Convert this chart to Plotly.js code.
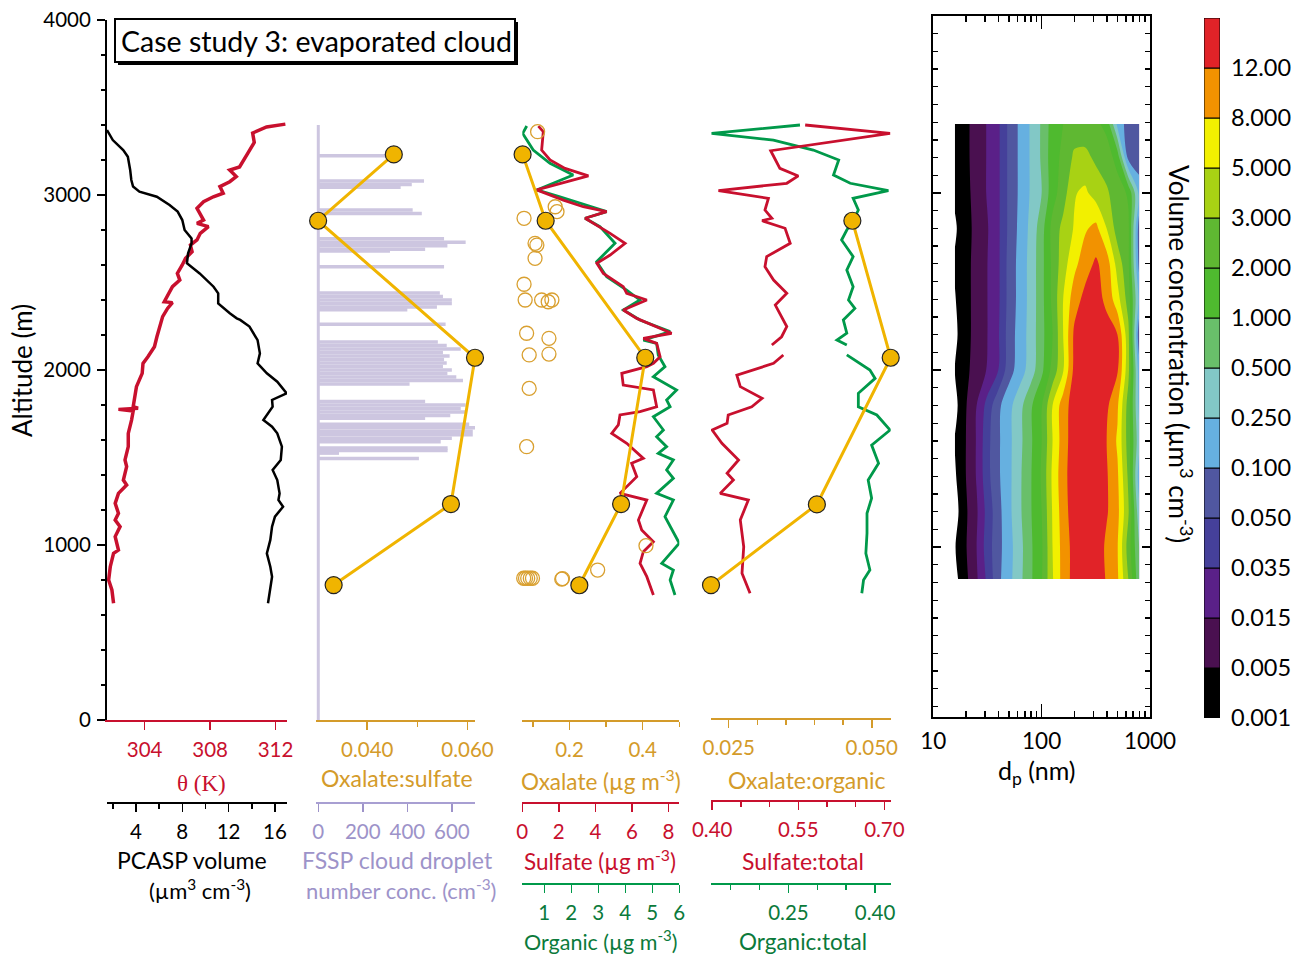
<!DOCTYPE html>
<html><head><meta charset="utf-8">
<script src="https://cdn.plot.ly/plotly-3.0.1.min.js"></script>
<style>body{margin:0;background:#fff}#chart{width:1294px;height:956px}</style>
</head><body><div id="chart"></div>
<script>
// ---------------- DATA ----------------
// Panel 1: potential temperature (K) and PCASP volume vs altitude (m)
const thetaAlt = [667,743,800,876,952,971,1048,1105,1143,1181,1238,1295,1343,1371,1448,1486,1562,1638,1714,1765,1775,1782,1790,1840,1905,1981,2038,2076,2133,2190,2248,2305,2352,2385,2390,2438,2476,2514,2552,2600,2638,2676,2714,2743,2781,2819,2838,2857,2895,2924,2962,2990,3010,3048,3076,3105,3143,3160,3238,3300,3354,3389,3405];
const thetaK   = [302.1,302.0,301.8,301.9,302.1,302.4,302.2,302.5,302.2,302.4,302.2,302.4,302.9,302.7,302.9,302.8,303.0,303.0,303.2,303.3,302.4,303.6,303.3,303.4,303.5,303.85,303.9,304.2,304.6,304.75,304.9,305.1,305.4,305.7,305.2,305.5,305.7,306.15,306.0,306.3,306.5,306.9,306.8,307.2,307.4,307.9,307.2,307.6,307.4,307.2,307.6,308.2,308.8,308.6,309.2,309.6,309.2,309.8,310.3,310.7,310.6,311.45,312.6];
const pcaspAlt = [667,762,819,876,952,1029,1105,1162,1219,1257,1295,1371,1429,1486,1562,1638,1676,1714,1790,1829,1867,1933,1981,2038,2095,2171,2248,2286,2295,2324,2381,2438,2476,2552,2610,2667,2724,2752,2800,2857,2905,2943,2990,3019,3048,3086,3143,3219,3257,3314,3371];
const pcaspVol = [15.4,15.6,15.75,15.6,15.3,15.6,15.75,16.0,16.7,16.3,16.4,16.2,15.8,16.5,16.6,16.2,15.75,15.0,15.8,15.75,17.0,16.2,15.3,14.5,14.7,14.5,13.8,13.0,12.7,12.1,11.1,11.1,10.7,9.5,8.4,8.5,8.8,8.8,8.2,8.0,7.6,6.9,5.8,4.3,3.75,3.6,3.5,3.3,2.9,2.0,1.5];
const profileTop = 3400;

// Panel 2: FSSP cloud droplet number conc. (cm-3) and oxalate:sulfate
const fsspAlt  = [1495,1525,1540,1555,1590,1610,1630,1650,1670,1690,1725,1740,1760,1780,1800,1820,1920,1940,1960,1980,2000,2020,2040,2060,2080,2100,2120,2140,2160,2262,2345,2360,2380,2400,2420,2440,2590,2680,2690,2710,2730,2750,2895,2915,3045,3060,3080,3225];
const fsspConc = [452,93,581,581,550,600,694,694,704,678,480,593,662,640,662,480,410,650,620,580,600,560,577,565,590,560,640,577,537,572,400,533,600,600,560,546,565,322,480,580,662,565,465,424,370,420,475,330];
const oxSulfAlt   = [3232,2853,2070,1234,771];
const oxSulfRatio = [0.0453,0.0302,0.0615,0.0567,0.0333];

// Panel 3: mass concentrations (ug m-3)
const oxAlt     = [3232,2853,2070,1234,770];
const oxalate   = [0.072,0.135,0.407,0.341,0.227];
const oxOpenAlt = [3362,2933,2905,2867,2724,2714,2638,2490,2400,2400,2390,2400,2210,2181,2086,2091,1895,1562,996,857,805,810,810,810,810,810,808];
const oxOpen    = [0.113,0.161,0.166,0.076,0.106,0.111,0.106,0.076,0.079,0.124,0.142,0.152,0.083,0.144,0.090,0.144,0.090,0.083,0.409,0.277,0.179,0.075,0.080,0.086,0.093,0.099,0.181];
const sulfAlt = [3394,3362,3257,3200,3152,3109,3029,2971,2933,2905,2867,2829,2781,2724,2657,2610,2552,2476,2438,2400,2343,2295,2248,2210,2181,2152,2076,2038,2019,1981,1914,1886,1790,1762,1743,1686,1638,1581,1495,1467,1390,1333,1295,1257,1143,1086,1019,962,895,819,714];
const sulfate = [0.88,1.15,1.06,1.52,2.34,3.62,0.79,2.25,3.34,4.62,3.44,4.08,4.81,5.63,4.81,4.08,4.44,5.53,5.72,6.82,5.53,6.27,7.36,8.18,6.63,7.36,7.55,7.18,6.82,5.45,5.53,7.18,7.36,6.45,5.35,5.26,4.9,5.72,6.63,5.99,6.27,5.72,5.35,6.82,6.36,6.54,7.18,6.63,6.45,6.82,7.18];
const orgAlt  = [3394,3352,3257,3181,3114,3029,2990,2952,2905,2867,2819,2724,2619,2533,2457,2400,2343,2286,2219,2171,2152,2086,2019,1962,1886,1829,1790,1733,1657,1619,1562,1524,1486,1429,1381,1295,1257,1162,1010,895,857,800,714];
const organic = [0.35,0.2,0.59,1.21,2.07,0.72,1.58,2.32,3.31,2.51,3.06,3.62,2.94,3.31,4.05,4.54,3.93,4.54,5.66,4.67,5.16,5.22,5.47,5.04,5.9,5.53,5.66,5.04,5.41,5.16,5.53,5.22,5.78,5.53,5.78,5.16,5.78,5.47,6.0,5.35,5.78,5.66,5.84];

// Panel 4: ratios
const oxOrgAlt   = [2853,2070,1232,771];
const oxOrgRatio = [0.0466,0.0533,0.0404,0.0219];
const sulfTotAlt = [3400,3352,3253,3152,3109,3067,3025,2981,2914,2867,2853,2810,2724,2648,2590,2514,2438,2371,2248,2190,2143,null,2086,2038,1971,1905,1838,1790,1743,1695,1657,1581,1486,1410,1371,1295,1257,1143,990,838,724];
const sulfTotal  = [0.562,0.71,0.502,0.518,0.550,0.530,0.411,0.498,0.492,0.504,0.487,0.527,0.536,0.495,0.492,0.507,0.530,0.51,0.530,0.521,0.504,null,0.524,0.507,0.443,0.449,0.487,0.469,0.428,0.426,0.40,0.417,0.446,0.426,0.437,0.414,0.463,0.449,0.455,0.452,0.466];
const orgTotAlt  = [3400,3352,3314,3257,3200,3114,3067,3025,2981,2914,2853,2800,2743,2648,2571,2476,2400,2352,2286,2210,2171,2143,null,2086,2000,1952,1867,1790,1743,1657,1571,1467,1371,1267,1181,1067,952,857,800,724];
const orgTotal   = [0.27,0.117,0.224,0.293,0.337,0.328,0.357,0.423,0.362,0.371,0.362,0.351,0.342,0.362,0.351,0.362,0.354,0.365,0.345,0.351,0.334,0.351,null,0.351,0.391,0.40,0.371,0.371,0.403,0.426,0.394,0.406,0.388,0.394,0.386,0.386,0.384,0.391,0.38,0.377];

// Panel 5: size-resolved volume concentration (um3 cm-3)
const sizeDp  = [15.8,20,25.1,31.6,39.8,50.1,63.1,79.4,100,126,158,200,251,316,398,501,631,794];
const sizeAlt = [820,1000,1200,1400,1600,1800,2000,2200,2400,2600,2800,3000,3200,3390];
const volConc = [
 [0.0006,0.0035,0.013,0.038,0.085,0.19,0.42,0.9,1.9,4.8,9.5,14,17,16,11.5,8.5,3,0.6],
 [0.0009,0.0045,0.015,0.042,0.08,0.18,0.4,0.9,1.8,5,9.5,14,17,16,11,8.2,2.5,0.5],
 [0.0005,0.004,0.013,0.04,0.08,0.2,0.45,0.95,2.0,5.2,10,15,17,16.5,12.5,9,3.2,0.3],
 [0.0008,0.005,0.016,0.045,0.09,0.2,0.45,0.95,2.1,5.5,10.5,15,17,16,12.5,8.5,2.8,0.15],
 [0.0011,0.005,0.016,0.045,0.09,0.2,0.42,0.9,2.0,5,10,15,17,16,12,7.5,2.5,0.3],
 [0.0006,0.0045,0.015,0.04,0.085,0.19,0.4,0.9,1.9,5,10,14.5,17,16.5,13,8.5,2.5,0.2],
 [0.001,0.0035,0.008,0.016,0.035,0.075,0.16,0.35,0.85,2.3,4.8,13.5,16.5,16,14,12.5,3.5,0.15],
 [0.0007,0.003,0.0075,0.015,0.032,0.07,0.15,0.33,0.8,2.0,5,13,16,15.5,14,12,3.5,0.06],
 [0.0009,0.003,0.0075,0.015,0.03,0.065,0.14,0.32,0.8,2.2,5,10,13.5,14,11,6,2.5,0.2],
 [0.0012,0.003,0.0075,0.015,0.03,0.065,0.14,0.32,0.8,2.2,4,7,10,12.8,10,4,2.2,0.08],
 [0.0008,0.0028,0.007,0.014,0.03,0.06,0.13,0.3,0.75,2.3,3.5,5.2,7.5,9,5,2.5,2.2,0.07],
 [0.0013,0.003,0.008,0.016,0.03,0.06,0.12,0.27,0.5,1.5,2.5,4.8,5.5,4,3.2,2.5,1.8,0.2],
 [0.0016,0.0035,0.008,0.016,0.03,0.06,0.12,0.27,0.55,1.5,2.2,3.3,3.4,2.8,2.5,1.5,0.08,0.06],
 [0.0014,0.0035,0.008,0.016,0.03,0.06,0.12,0.27,0.55,1.4,2.0,2.4,2.4,2.2,1.6,0.2,0.07,0.06]
];
const levelBounds = [0.001,0.005,0.015,0.035,0.05,0.1,0.25,0.5,1,2,3,5,8,12];
const levelLabels = ['0.001','0.005','0.015','0.035','0.050','0.100','0.250','0.500','1.000','2.000','3.000','5.000','8.000','12.00'];
const levelColors = ['#000000','#4a1050','#5a2088','#45409a','#5057a0','#66b0e0','#82c8c6','#69bf6a','#4fba2f','#5fb832','#a8d214','#f2f000','#f29200','#e12328'];

// ---------------- HELPERS ----------------
const W = 1294, H = 956;
const fx = p => p / W;
const fy = p => 1 - p / H;
const FONT = 'Lato, "Open Sans", sans-serif';
const RED = '#c8102e', ORTXT = '#d49b2a', ORANGE = '#f0b400', LAV = '#9d93c9', LAVBAR = '#cdc6e0', GREEN = '#00994a', GRTXT = '#0b7a3b';

function levelIndex(v) {
  const L = levelBounds.map(Math.log10);
  const lv = Math.log10(v);
  if (lv <= L[0]) return (lv - L[0]) / (L[1] - L[0]);
  for (let k = 0; k < L.length - 1; k++) if (lv <= L[k + 1]) return k + (lv - L[k]) / (L[k + 1] - L[k]);
  const n = L.length - 1;
  return n + (lv - L[n]) / (L[n] - L[n - 1]);
}
const zIdx = volConc.map(r => r.map(levelIndex));
const csColors = ['#ffffff'].concat(levelColors);
const nC = csColors.length - 1;
const contourScale = [];
csColors.forEach((c, j) => {
  contourScale.push([j / nC, c]);
  if (j < nC) contourScale.push([(j + 0.5) / nC + 0.001, c]);
});

function xax(color, o) {
  return Object.assign({
    showline: true, linecolor: color, linewidth: 1.5,
    ticks: 'outside', ticklen: 8, tickwidth: 1.5, tickcolor: color,
    showgrid: false, zeroline: false, fixedrange: true, automargin: false,
    tickfont: {size: 20.5, family: FONT, color: color}, ticklabelstandoff: 3
  }, o);
}
function minor(vals, color) {
  return {tickvals: vals, ticks: 'outside', ticklen: 5, tickwidth: 1.5, tickcolor: color};
}
function ann(text, x, y, color, size, extra) {
  return Object.assign({text: text, xref: 'paper', yref: 'paper', x: fx(x), y: fy(y),
    xanchor: 'center', yanchor: 'middle', showarrow: false,
    font: {family: FONT, size: size, color: color}}, extra || {});
}

// ---------------- TRACES ----------------
const traces = [
  {type: 'scatter', mode: 'lines', x: thetaK, y: thetaAlt, xaxis: 'x', yaxis: 'y', line: {color: RED, width: 3.5}},
  {type: 'scatter', mode: 'lines', x: pcaspVol, y: pcaspAlt, xaxis: 'x2', yaxis: 'y', line: {color: 'black', width: 2.5}},

  {type: 'bar', orientation: 'h', x: fsspConc, y: fsspAlt, xaxis: 'x3', yaxis: 'y', width: 20, marker: {color: LAVBAR, line: {width: 0}}},
  {type: 'scatter', mode: 'lines', x: [0, 0], y: [0, profileTop], xaxis: 'x3', yaxis: 'y', line: {color: LAVBAR, width: 3}},
  {type: 'scatter', mode: 'lines+markers', x: oxSulfRatio, y: oxSulfAlt, xaxis: 'x4', yaxis: 'y', cliponaxis: false,
   line: {color: ORANGE, width: 3}, marker: {size: 17, color: ORANGE, line: {color: '#222', width: 1.2}}},

  {type: 'scatter', mode: 'lines', x: organic, y: orgAlt, xaxis: 'x5', yaxis: 'y', line: {color: GREEN, width: 2.8}},
  {type: 'scatter', mode: 'lines', x: sulfate, y: sulfAlt, xaxis: 'x6', yaxis: 'y', line: {color: RED, width: 2.8}},
  {type: 'scatter', mode: 'markers', x: oxOpen, y: oxOpenAlt, xaxis: 'x7', yaxis: 'y', cliponaxis: false,
   marker: {symbol: 'circle-open', size: 14, color: '#d9a030', line: {width: 1.3}}},
  {type: 'scatter', mode: 'lines+markers', x: oxalate, y: oxAlt, xaxis: 'x7', yaxis: 'y', cliponaxis: false,
   line: {color: ORANGE, width: 3}, marker: {size: 17, color: ORANGE, line: {color: '#222', width: 1.2}}},

  {type: 'scatter', mode: 'lines', x: orgTotal, y: orgTotAlt, xaxis: 'x8', yaxis: 'y', line: {color: GREEN, width: 2.8}},
  {type: 'scatter', mode: 'lines', x: sulfTotal, y: sulfTotAlt, xaxis: 'x9', yaxis: 'y', line: {color: RED, width: 2.8}},
  {type: 'scatter', mode: 'lines+markers', x: oxOrgRatio, y: oxOrgAlt, xaxis: 'x10', yaxis: 'y', cliponaxis: false,
   line: {color: ORANGE, width: 3}, marker: {size: 17, color: ORANGE, line: {color: '#222', width: 1.2}}},

  {type: 'contour', x: sizeDp, y: sizeAlt, z: zIdx, xaxis: 'x11', yaxis: 'y2',
   autocontour: false, contours: {start: 0, end: 13, size: 1, coloring: 'fill', showlines: false},
   line: {width: 0, smoothing: 0.9}, colorscale: contourScale, showscale: false, hoverinfo: 'skip'},

  {type: 'bar', x: levelLabels.map(() => 0), y: levelLabels.map(() => 1), base: levelLabels.map((_, i) => i),
   xaxis: 'x12', yaxis: 'y3', width: 1, marker: {color: levelColors, line: {color: 'black', width: 1}}}
];

// ---------------- LAYOUT ----------------
const layout = {
  width: W, height: H, margin: {l: 0, r: 0, t: 0, b: 0},
  paper_bgcolor: 'white', plot_bgcolor: 'rgba(0,0,0,0)', showlegend: false,
  font: {family: FONT, size: 20, color: 'black'},
  yaxis: {domain: [fy(720), fy(20)], range: [0, 4000], anchor: 'x', showline: true, linecolor: 'black', linewidth: 2,
    ticks: 'outside', ticklen: 8, tickwidth: 1.5, tickcolor: 'black', tickvals: [0, 1000, 2000, 3000, 4000],
    minor: {dtick: 200, tick0: 0, ticks: 'outside', ticklen: 4, tickwidth: 1.5, tickcolor: 'black'},
    showgrid: false, zeroline: false, fixedrange: true, tickfont: {size: 20.5, family: FONT}, ticklabelstandoff: 2},

  xaxis: xax(RED, {domain: [fx(107), fx(287)], range: [301.7, 312.7], anchor: 'y', tickvals: [304, 308, 312]}),
  xaxis2: xax('black', {overlaying: 'x', anchor: 'free', position: fy(802), range: [1.5, 17.04], tickvals: [4, 8, 12, 16], minor: minor([2, 6, 10, 14], 'black')}),

  xaxis3: xax(LAV, {domain: [fx(316), fx(475)], anchor: 'free', position: fy(802), range: [-10.3, 704], tickvals: [0, 200, 400, 600], linecolor: '#a89fd2'}),
  xaxis4: xax(ORTXT, {overlaying: 'x3', anchor: 'y', range: [0.02978, 0.0615], tickvals: [0.04, 0.06], ticktext: ['0.040', '0.060'], minor: minor([0.05], ORTXT)}),

  xaxis5: xax(GREEN, {domain: [fx(522.3), fx(679.3)], anchor: 'free', position: fy(883), range: [0.185, 6], tickvals: [1, 2, 3, 4, 5, 6], tickfont: {size: 20.5, family: FONT, color: GRTXT}}),
  xaxis6: xax(RED, {overlaying: 'x5', anchor: 'free', position: fy(802), range: [0, 8.6], tickvals: [0, 2, 4, 6, 8]}),
  xaxis7: xax(ORTXT, {overlaying: 'x5', anchor: 'y', range: [0.0712, 0.5], tickvals: [0.2, 0.4], ticktext: ['0.2', '0.4'], minor: minor([0.1, 0.3, 0.5], ORTXT)}),

  xaxis8: xax(GREEN, {domain: [fx(711), fx(890.7)], anchor: 'free', position: fy(883), range: [0.116, 0.427], tickvals: [0.25, 0.40], ticktext: ['0.25', '0.40'], minor: minor([0.15, 0.2, 0.3, 0.35], GREEN), tickfont: {size: 20.5, family: FONT, color: GRTXT}}),
  xaxis9: xax(RED, {overlaying: 'x8', anchor: 'free', position: fy(800), range: [0.398, 0.711], tickvals: [0.40, 0.55, 0.70], ticktext: ['0.40', '0.55', '0.70'], minor: minor([0.45, 0.5, 0.6, 0.65], RED)}),
  xaxis10: xax(ORTXT, {overlaying: 'x8', anchor: 'free', position: fy(718), range: [0.0219, 0.0533], tickvals: [0.025, 0.05], ticktext: ['0.025', '0.050'], minor: minor([0.03, 0.035, 0.04, 0.045], ORTXT)}),

  xaxis11: {domain: [fx(933.3), fx(1150)], anchor: 'y2', type: 'log', range: [1, 3],
    showline: true, linecolor: 'black', linewidth: 2, mirror: 'ticks',
    ticks: 'inside', ticklen: 13, tickwidth: 1.5, tickcolor: 'black', tickvals: [10, 100, 1000], ticktext: ['10', '100', '1000'],
    minor: {tickvals: [20,30,40,50,60,70,80,90,200,300,400,500,600,700,800,900], ticks: 'inside', ticklen: 6, tickwidth: 1.5, tickcolor: 'black'},
    showgrid: false, zeroline: false, fixedrange: true, tickfont: {size: 22.5, family: FONT}, ticklabelstandoff: 3},
  yaxis2: {domain: [fy(717), fy(16)], anchor: 'x11', range: [40, 4000],
    showline: true, linecolor: 'black', linewidth: 2, mirror: 'ticks',
    ticks: 'inside', ticklen: 8, tickwidth: 1.5, tickcolor: 'black', tick0: 0, dtick: 1000, showticklabels: false,
    minor: {dtick: 100, tick0: 0, ticks: 'inside', ticklen: 5, tickwidth: 1.3, tickcolor: 'black'},
    showgrid: false, zeroline: false, fixedrange: true},

  xaxis12: {domain: [fx(1204), fx(1220)], anchor: 'y3', range: [-0.5, 0.5], visible: false, fixedrange: true},
  yaxis3: {domain: [fy(718), fy(18)], anchor: 'x12', side: 'right', range: [0, 14],
    tickvals: levelLabels.map((_, i) => i), ticktext: levelLabels, ticks: '', showline: false, showgrid: false, zeroline: false,
    fixedrange: true, tickfont: {size: 23.5, family: FONT}, ticklabelstandoff: 10},

  shapes: [
    {type: 'rect', xref: 'paper', yref: 'paper', x0: fx(118), x1: fx(518), y0: fy(65), y1: fy(22), fillcolor: 'black', line: {width: 0}},
    {type: 'rect', xref: 'paper', yref: 'paper', x0: fx(115), x1: fx(515), y0: fy(62), y1: fy(19), fillcolor: 'white', line: {color: 'black', width: 2}}
  ],
  annotations: [
    ann('Case study 3: evaporated cloud', 119, 41, 'black', 28.5, {xanchor: 'left'}),
    ann('Altitude (m)', 22, 371, 'black', 26, {textangle: -90}),
    ann('θ (K)', 201, 783, RED, 23, {font: {family: '"Liberation Serif", serif', size: 23, color: RED}}),
    ann('PCASP volume', 192, 860, 'black', 23),
    ann('(µm<sup>3</sup> cm<sup>-3</sup>)', 200, 889, 'black', 22),
    ann('Oxalate:sulfate', 397, 778, ORTXT, 23),
    ann('FSSP cloud droplet', 397, 860, LAV, 23),
    ann('number conc. (cm<sup>-3</sup>)', 401, 889, LAV, 22),
    ann('Oxalate (µg m<sup>-3</sup>)', 601, 780, ORTXT, 22.5),
    ann('Sulfate (µg m<sup>-3</sup>)', 600, 860, RED, 22.5),
    ann('Organic (µg m<sup>-3</sup>)', 601, 940, GRTXT, 21.5),
    ann('Oxalate:organic', 807, 780, ORTXT, 23),
    ann('Sulfate:total', 803, 861, RED, 23),
    ann('Organic:total', 803, 941, GRTXT, 22.5),
    ann('d<sub>p</sub> (nm)', 1036, 772, 'black', 25),
    ann('Volume concentration (µm<sup>3</sup> cm<sup>-3</sup>)', 1181, 354, 'black', 26, {textangle: 90})
  ]
};

Plotly.newPlot('chart', traces, layout, {staticPlot: true, displayModeBar: false});
</script></body></html>
